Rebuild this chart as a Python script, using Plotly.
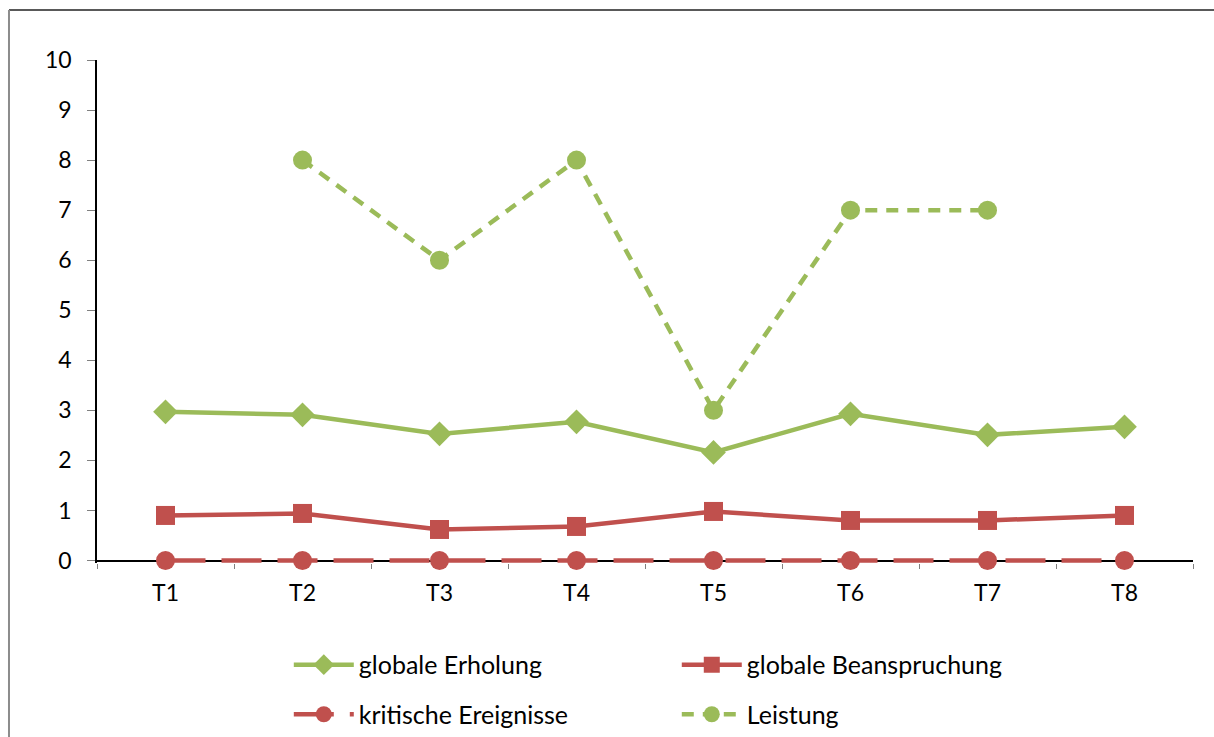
import plotly.graph_objects as go

# Messzeitpunkte
zeitpunkte = ["T1", "T2", "T3", "T4", "T5", "T6", "T7", "T8"]

# Mittelwerte je Messzeitpunkt
globale_erholung = [2.97, 2.91, 2.53, 2.77, 2.16, 2.93, 2.51, 2.67]
globale_beanspruchung = [0.90, 0.94, 0.62, 0.68, 0.98, 0.80, 0.80, 0.90]
kritische_ereignisse = [0, 0, 0, 0, 0, 0, 0, 0]
leistung = [None, 8, 6, 8, 3, 7, 7, None]

y_ticks = list(range(0, 11))

GRUEN = "#9BBB59"
ROT = "#C0504D"
FONT = "Lato"

fig = go.Figure()

fig.add_trace(go.Scatter(
    x=zeitpunkte, y=globale_erholung, name="globale Erholung",
    mode="lines+markers", legend="legend", legendgroup="a",
    line=dict(color=GRUEN, width=4.5),
    marker=dict(symbol="diamond", size=19, color=GRUEN),
    cliponaxis=False,
))
fig.add_trace(go.Scatter(
    x=zeitpunkte, y=globale_beanspruchung, name="globale Beanspruchung",
    mode="lines+markers", legend="legend2", legendgroup="b",
    line=dict(color=ROT, width=4.5),
    marker=dict(symbol="square", size=19, color=ROT),
    cliponaxis=False,
))
fig.add_trace(go.Scatter(
    x=zeitpunkte, y=kritische_ereignisse, name="kritische Ereignisse",
    mode="lines+markers", legend="legend", legendgroup="c",
    line=dict(color=ROT, width=4.5, dash="40px,16px"),
    marker=dict(symbol="circle", size=19, color=ROT),
    cliponaxis=False,
))
fig.add_trace(go.Scatter(
    x=zeitpunkte, y=leistung, name="Leistung",
    mode="lines+markers", legend="legend2", legendgroup="d",
    line=dict(color=GRUEN, width=4.5, dash="12px,9px"),
    marker=dict(symbol="circle", size=19, color=GRUEN),
    connectgaps=False,
    cliponaxis=False,
))

# Rahmen um das Diagramm (oben und links sichtbar)
fig.add_shape(type="line", xref="paper", yref="paper",
              x0=-0.0803, x1=1.03, y0=1.0995, y1=1.0995,
              line=dict(color="#595959", width=2))
fig.add_shape(type="line", xref="paper", yref="paper",
              x0=-0.0803, x1=-0.0803, y0=1.0995, y1=-0.40,
              line=dict(color="#8c8c8c", width=2))

legend_style = dict(
    orientation="v",
    xanchor="left",
    y=-0.157, yanchor="top",
    itemwidth=60,
    font=dict(family=FONT, size=25, color="black"),
    tracegroupgap=14,
    bgcolor="rgba(0,0,0,0)",
)

fig.update_layout(
    width=1214, height=737,
    margin=dict(l=97, r=21, t=60, b=173.5, autoexpand=False),
    paper_bgcolor="white", plot_bgcolor="white",
    font=dict(family=FONT, size=23, color="black"),
    showlegend=True,
    legend=dict(x=0.175, **legend_style),
    legend2=dict(x=0.529, **legend_style),
    xaxis=dict(
        type="category",
        range=[-0.5, 7.5],
        showgrid=False,
        showline=False,
        ticks="outside", tickson="boundaries", ticklen=5,
        tickcolor="#808080",
        ticklabelstandoff=14,
        tickfont=dict(family=FONT, size=23),
        zeroline=False,
    ),
    yaxis=dict(
        range=[-0.05, 10],
        tickvals=y_ticks,
        showgrid=False,
        showline=True, linecolor="black", linewidth=1.5,
        ticks="outside", ticklen=8, tickcolor="#808080",
        ticklabelstandoff=11,
        tickfont=dict(family=FONT, size=23),
        zeroline=True, zerolinecolor="black", zerolinewidth=1.5,
        layer="below traces",
    ),
)

fig.write_html("out.html")
